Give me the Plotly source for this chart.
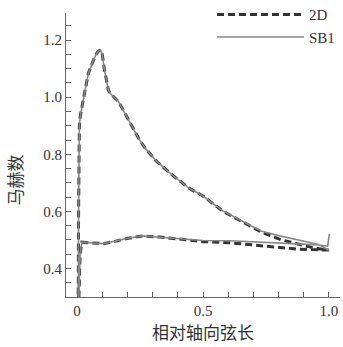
import plotly.graph_objects as go

# Suction side (upper curve), leading edge -> trailing edge
x_ss_2d = [0.004, 0.006, 0.009, 0.013, 0.019, 0.032, 0.045, 0.055, 0.065, 0.078, 0.087, 0.094, 0.1, 0.108, 0.118,
           0.124, 0.131, 0.145, 0.164, 0.18, 0.197, 0.224, 0.245, 0.27, 0.316, 0.376, 0.442, 0.501, 0.58, 0.647,
           0.74, 0.812, 0.885, 0.94, 0.99, 1.0]
m_ss_2d = [0.2, 0.6, 0.898, 0.935, 0.967, 1.026, 1.084, 1.11, 1.13, 1.154, 1.163, 1.165, 1.15, 1.1, 1.049,
           1.025, 1.014, 1.002, 0.985, 0.96, 0.932, 0.886, 0.855, 0.822, 0.775, 0.729, 0.683, 0.653, 0.6, 0.568,
           0.524, 0.5, 0.484, 0.472, 0.465, 0.465]

x_ss_sb1 = [0.004, 0.006, 0.009, 0.013, 0.019, 0.032, 0.045, 0.055, 0.065, 0.078, 0.087, 0.094, 0.1, 0.108, 0.118,
            0.124, 0.131, 0.145, 0.164, 0.18, 0.197, 0.224, 0.245, 0.27, 0.316, 0.376, 0.442, 0.501, 0.58, 0.647,
            0.73, 0.8, 0.872, 0.92, 0.964, 0.995, 1.002]
m_ss_sb1 = [0.2, 0.6, 0.898, 0.935, 0.967, 1.026, 1.084, 1.11, 1.13, 1.154, 1.163, 1.165, 1.15, 1.1, 1.049,
            1.025, 1.014, 1.002, 0.985, 0.96, 0.932, 0.886, 0.855, 0.822, 0.775, 0.729, 0.683, 0.653, 0.601, 0.57,
            0.531, 0.515, 0.502, 0.492, 0.482, 0.478, 0.521]

# Pressure side (lower curve), leading edge -> trailing edge
x_ps_2d = [0.004, 0.008, 0.012, 0.019, 0.05, 0.105, 0.15, 0.197, 0.26, 0.33, 0.4, 0.5, 0.607, 0.74, 0.872, 0.96, 1.0]
m_ps_2d = [0.2, 0.3, 0.45, 0.492, 0.49, 0.487, 0.495, 0.505, 0.514, 0.51, 0.504, 0.494, 0.49, 0.478, 0.468, 0.465, 0.465]

x_ps_sb1 = [0.004, 0.008, 0.012, 0.019, 0.05, 0.105, 0.15, 0.197, 0.26, 0.33, 0.4, 0.5, 0.607, 0.74, 0.872, 0.964, 1.002]
m_ps_sb1 = [0.2, 0.3, 0.45, 0.492, 0.49, 0.487, 0.495, 0.505, 0.514, 0.51, 0.505, 0.498, 0.497, 0.491, 0.486, 0.482, 0.462]

x_tickvals = [0, 0.5, 1.0]
x_ticktext = ["0", "0.5", "1.0"]
y_tickvals = [0.4, 0.6, 0.8, 1.0, 1.2]
y_ticktext = ["0.4", "0.6", "0.8", "1.0", "1.2"]

serif = "Liberation Serif, Times New Roman, serif"
cjk = "Noto Sans CJK SC"

fig = go.Figure()
fig.add_trace(go.Scatter(
    x=x_ps_2d[::-1] + x_ss_2d, y=m_ps_2d[::-1] + m_ss_2d, mode="lines", name="2D",
    line=dict(color="#333333", width=3, dash="7px,4px")))
fig.add_trace(go.Scatter(
    x=x_ps_sb1[::-1] + x_ss_sb1, y=m_ps_sb1[::-1] + m_ss_sb1, mode="lines", name="SB1",
    line=dict(color="#888888", width=1.6)))

axis_common = dict(showline=True, linecolor="#666666", linewidth=1.2, showgrid=False, zeroline=False,
                   ticks="inside", ticklen=5, tickcolor="#666666", tickwidth=1,
                   tickfont=dict(family=serif, size=15, color="#333333"))

fig.update_xaxes(range=[-0.044, 1.044], tickvals=x_tickvals, ticktext=x_ticktext,
                 minor=dict(dtick=0.1, tick0=0, ticks="inside", ticklen=5, tickcolor="#666666"),
                 title=dict(text="相对轴向弦长", font=dict(family=cjk, size=17, color="#333333"), standoff=5),
                 **axis_common)
fig.update_yaxes(range=[0.3, 1.295], tickvals=y_tickvals, ticktext=y_ticktext,
                 minor=dict(dtick=0.05, tick0=0.3, ticks="inside", ticklen=5, tickcolor="#666666"),
                 **axis_common)

fig.add_annotation(text="马赫数", xref="paper", yref="paper", x=-0.186, y=0.41,
                   xanchor="center", yanchor="middle", textangle=-90, showarrow=False,
                   font=dict(family=cjk, size=17, color="#333333"))

fig.update_layout(
    width=343, height=347,
    margin=dict(l=66, r=3, t=13, b=50, autoexpand=False),
    plot_bgcolor="white", paper_bgcolor="white",
    showlegend=True,
    legend=dict(x=1.0, xanchor="right", y=1.052, yanchor="top", bgcolor="rgba(0,0,0,0)",
                font=dict(family=serif, size=15, color="#333333"), itemwidth=87, tracegroupgap=0),
)

fig.write_html("out.html")
